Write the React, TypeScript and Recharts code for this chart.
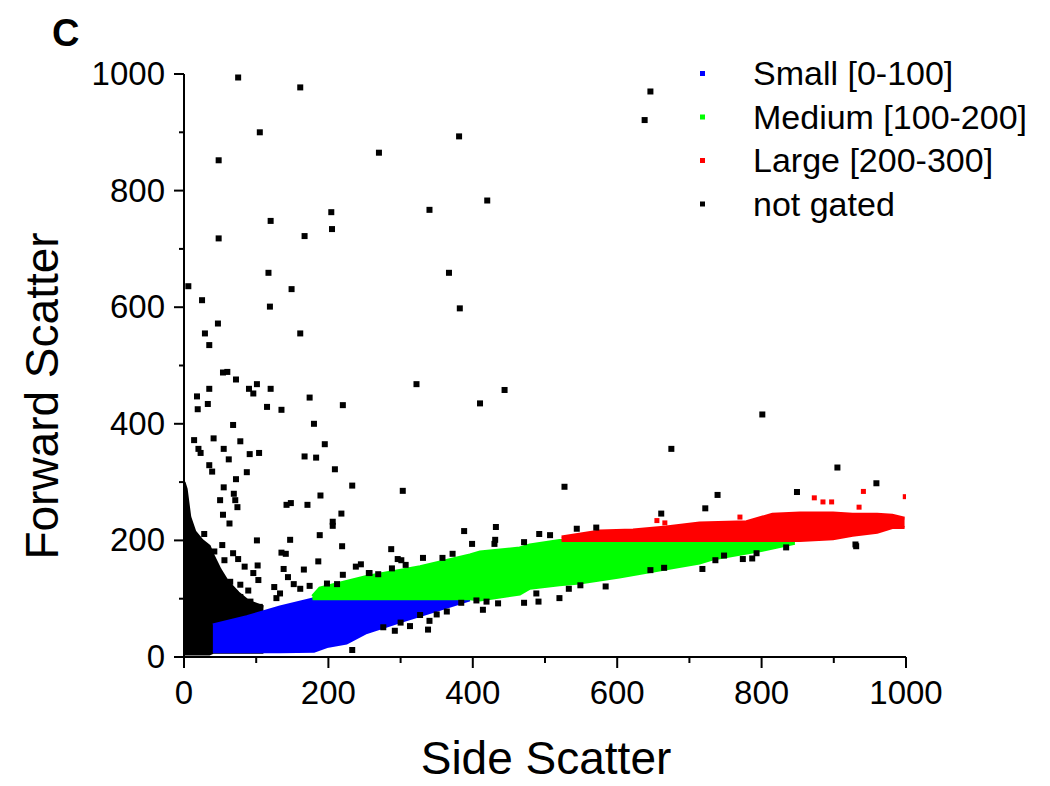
import React from "react";
import { ComposedChart, Area, Scatter, XAxis, YAxis } from "recharts";

// dense clouds as [sideScatter, low, high]
const notGatedCloud = [
  [0, 5, 300], [3, 5, 288], [8, 5, 240], [15, 5, 215], [25, 5, 200], [35, 5, 190],
  [40, 8, 175], [50, 8, 150], [60, 8, 130], [75, 8, 110], [90, 8, 95], [110, 8, 86],
];
const smallCloud = [
  [40, 9, 55], [87, 9, 69], [133, 9, 86], [180, 10, 100], [198, 18, 100],
  [225, 24, 100], [253, 42, 100], [303, 62, 100], [350, 80, 100], [396, 98, 100],
];
const mediumCloud = [
  [178, 100, 104], [188, 100, 118], [253, 100, 138], [327, 100, 155], [396, 100, 175],
  [410, 98, 180], [465, 108, 187], [479, 118, 192], [520, 124, 200], [548, 127, 200],
  [603, 137, 200], [686, 155, 200], [714, 161, 200], [732, 168, 200], [801, 183, 200],
  [846, 195, 200],
];
const largeCloud = [
  [523, 200, 206], [576, 200, 216], [622, 200, 218], [668, 200, 223], [714, 200, 230],
  [779, 200, 232], [815, 200, 245], [853, 200, 247], [899, 203, 247], [926, 209, 245],
  [960, 214, 245], [981, 222, 243], [998, 222, 238],
];

// single events outside the clouds
const notGatedPoints = [
  [75, 994], [161, 977], [105, 900], [381, 893], [48, 852], [270, 865], [646, 970], [638, 921],
  [420, 783], [340, 767], [204, 763], [120, 748], [205, 734], [167, 722], [48, 718],
  [117, 659], [367, 659], [6, 636], [149, 631], [25, 612], [119, 601], [382, 598],
  [47, 572], [29, 555], [161, 555], [35, 535], [54, 488], [60, 489], [72, 476],
  [35, 460], [90, 460], [96, 452], [101, 468], [120, 460], [322, 468], [444, 458],
  [18, 447], [174, 445], [19, 425], [33, 434], [68, 398], [41, 375], [14, 372],
  [78, 370], [20, 357], [23, 350], [55, 357], [91, 348], [104, 350], [62, 339],
  [35, 329], [39, 318], [87, 317], [72, 305], [55, 291], [69, 280], [50, 269],
  [71, 269], [74, 257], [54, 244], [63, 229], [28, 211], [101, 200], [53, 192],
  [42, 181], [56, 166], [68, 178], [75, 168], [84, 155], [102, 157], [96, 144],
  [103, 132], [64, 129], [78, 124], [89, 114], [50, 126], [78, 103], [92, 95],
  [105, 86], [54, 98], [66, 81], [135, 424], [115, 429], [410, 435], [220, 432],
  [180, 400], [195, 365], [167, 344], [183, 342], [209, 322], [233, 294], [189, 277],
  [142, 261], [148, 264], [171, 261], [218, 246], [206, 232], [206, 225], [188, 209],
  [219, 190], [147, 201], [135, 179], [141, 177], [186, 164], [166, 150], [138, 151],
  [144, 137], [152, 125], [125, 120], [133, 109], [128, 101], [161, 117], [174, 122],
  [198, 126], [220, 141], [238, 155], [245, 159], [256, 144], [233, 12], [212, 125],
  [303, 285], [527, 292], [432, 223], [388, 216], [399, 194], [430, 194], [431, 201],
  [471, 197], [492, 211], [507, 209], [544, 220], [571, 222], [287, 185], [296, 168],
  [301, 166], [307, 158], [288, 152], [331, 170], [372, 177], [358, 170], [257, 144],
  [269, 142], [384, 93], [405, 97], [419, 95], [414, 81], [435, 92], [471, 93],
  [491, 95], [488, 109], [520, 101], [533, 117], [549, 123], [584, 121], [327, 72],
  [350, 73], [364, 78], [340, 62], [313, 53], [300, 59], [338, 47], [276, 51],
  [292, 45], [801, 416], [675, 357], [905, 325], [959, 298], [849, 283], [739, 278],
  [722, 255], [661, 246], [930, 193], [931, 190], [834, 188], [793, 178], [787, 169],
  [774, 168], [748, 174], [736, 166], [718, 151], [665, 153], [646, 149],
];
const largePoints = [
  [873, 273], [885, 266], [897, 266], [941, 284], [999, 275], [935, 257],
  [655, 234], [666, 230], [770, 240],
];
const mediumPoints = [[767, 181], [752, 176]];

const xTicks = [0, 100, 200, 300, 400, 500, 600, 700, 800, 900, 1000];
const yTicks = [0, 100, 200, 300, 400, 500, 600, 700, 800, 900, 1000];

const legendNames = ["Small [0-100]", "Medium [100-200]", "Large [200-300]", "not gated"];
const legendColors = ["#0000ff", "#00ff00", "#ff0000", "#000000"];

const FONT = "'Liberation Sans', Arial, sans-serif";

const rows: any[] = [];
const addCloud = (key: string, cloud: number[][]) =>
  cloud.forEach(([x, lo, hi]) => rows.push({ x, [key]: [lo, hi] }));
addCloud("black", notGatedCloud);
addCloud("blue", smallCloud);
addCloud("green", mediumCloud);
addCloud("red", largeCloud);
rows.sort((a, b) => a.x - b.x);

const toPts = (list: number[][]) => list.map(([x, y]) => ({ x, y }));

const square = (fill: string, s: number) => (p: any) =>
  <rect x={p.cx - s / 2} y={p.cy - s / 2} width={s} height={s} fill={fill} />;

const YTick = (props: any) => {
  const { x, y, payload } = props;
  const major = payload.value % 200 === 0;
  return (
    <g>
      <line x1={x} x2={x - (major ? 10 : 5)} y1={y} y2={y} stroke="#000" strokeWidth={2} />
      {major && (
        <text x={x - 19} y={y} dy={11} textAnchor="end" fontSize={33} fontFamily={FONT} fill="#000">
          {payload.value}
        </text>
      )}
    </g>
  );
};

const XTick = (props: any) => {
  const { x, y, payload } = props;
  const major = payload.value % 200 === 0;
  return (
    <g>
      <line x1={x} x2={x} y1={y} y2={y + (major ? 11 : 6)} stroke="#000" strokeWidth={2} />
      {major && (
        <text x={x} y={y + 47} textAnchor="middle" fontSize={33} fontFamily={FONT} fill="#000">
          {payload.value}
        </text>
      )}
    </g>
  );
};

const App = () => {
  return (
    <div style={{ position: "relative", width: 1042, height: 778, background: "#fff" }}>
      <ComposedChart
        width={1042}
        height={778}
        data={rows}
        margin={{ top: 66, right: 144, bottom: 49, left: 96 }}
      >
        <XAxis
          dataKey="x"
          type="number"
          domain={[0, 1000]}
          ticks={xTicks}
          interval={0}
          tickSize={0}
          tickMargin={0}
          tick={<XTick />}
          axisLine={{ stroke: "#000", strokeWidth: 2 }}
          height={80}
          allowDataOverflow
        />
        <YAxis
          type="number"
          domain={[0, 1000]}
          ticks={yTicks}
          interval={0}
          tickSize={0}
          tickMargin={0}
          tick={<YTick />}
          axisLine={{ stroke: "#000", strokeWidth: 2 }}
          width={80}
          allowDataOverflow
        />
        <Area dataKey="black" type="linear" stroke="#000" strokeWidth={3} fill="#000" fillOpacity={1} connectNulls dot={false} activeDot={false} isAnimationActive={false} />
        <Area dataKey="blue" type="linear" stroke="#0000ff" strokeWidth={3} fill="#0000ff" fillOpacity={1} connectNulls dot={false} activeDot={false} isAnimationActive={false} />
        <Area dataKey="green" type="linear" stroke="#00ff00" strokeWidth={3} fill="#00ff00" fillOpacity={1} connectNulls dot={false} activeDot={false} isAnimationActive={false} />
        <Area dataKey="red" type="linear" stroke="#ff0000" strokeWidth={3} fill="#ff0000" fillOpacity={1} connectNulls dot={false} activeDot={false} isAnimationActive={false} />
        <Scatter data={toPts(mediumPoints)} dataKey="y" shape={square("#00ff00", 5)} isAnimationActive={false} />
        <Scatter data={toPts(largePoints)} dataKey="y" shape={square("#ff0000", 5)} isAnimationActive={false} />
        <Scatter data={toPts(notGatedPoints)} dataKey="y" shape={square("#000", 6)} isAnimationActive={false} />
      </ComposedChart>
      <svg
        width={1042}
        height={778}
        style={{ position: "absolute", left: 0, top: 0, pointerEvents: "none" }}
        fontFamily={FONT}
      >
        <text x={44} y={38} fontSize={38} fontWeight="bold" fill="#000">C</text>
        {legendNames.map((name, i) => (
          <g key={name}>
            <rect x={692} y={63 + i * 43.5} width={5} height={5} fill={legendColors[i]} />
            <text x={745} y={77 + i * 43.5} fontSize={34} fill="#000">{name}</text>
          </g>
        ))}
        <text x={538} y={766} fontSize={46} textAnchor="middle" fill="#000">Side Scatter</text>
        <text
          x={0}
          y={0}
          fontSize={46}
          textAnchor="middle"
          fill="#000"
          transform="translate(50 388) rotate(-90)"
        >
          Forward Scatter
        </text>
      </svg>
    </div>
  );
};

export default App;
